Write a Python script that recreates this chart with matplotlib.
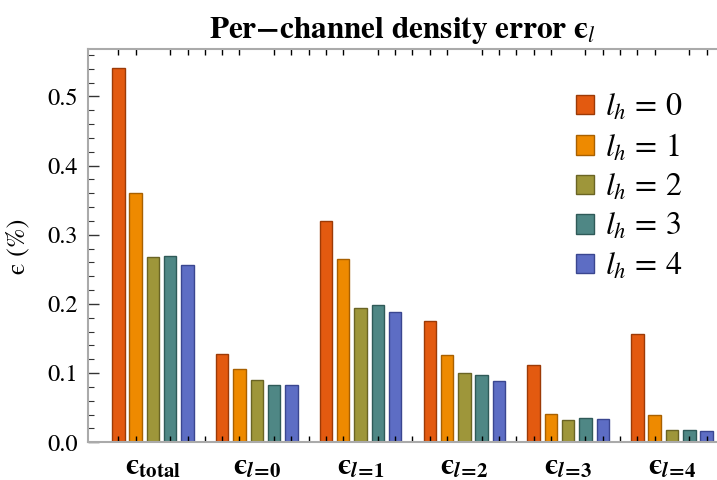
import numpy as np
import matplotlib.pyplot as plt
from matplotlib.patches import Patch
from matplotlib.ticker import MultipleLocator, FixedLocator

plt.rcParams['mathtext.fontset'] = 'stix'
plt.rcParams['font.family'] = ['STIXGeneral', 'DejaVu Serif']

# данные: ошибка по каналам для каждого l_h
groups = ['$\\boldsymbol{\u03f5}_{\\mathbf{total}}$',
          '$\\boldsymbol{\u03f5}_{\\boldsymbol{l}\\!\\mathbf{=}\\!\\mathbf{0}}$',
          '$\\boldsymbol{\u03f5}_{\\boldsymbol{l}\\!\\mathbf{=}\\!\\mathbf{1}}$',
          '$\\boldsymbol{\u03f5}_{\\boldsymbol{l}\\!\\mathbf{=}\\!\\mathbf{2}}$',
          '$\\boldsymbol{\u03f5}_{\\boldsymbol{l}\\!\\mathbf{=}\\!\\mathbf{3}}$',
          '$\\boldsymbol{\u03f5}_{\\boldsymbol{l}\\!\\mathbf{=}\\!\\mathbf{4}}$']
series = [r'$l_h\,=\,0$', r'$l_h\,=\,1$', r'$l_h\,=\,2$', r'$l_h\,=\,3$', r'$l_h\,=\,4$']
lh0 = [0.541, 0.128, 0.320, 0.176, 0.112, 0.156]
lh1 = [0.361, 0.106, 0.265, 0.126, 0.041, 0.040]
lh2 = [0.268, 0.090, 0.194, 0.100, 0.032, 0.018]
lh3 = [0.269, 0.083, 0.198, 0.097, 0.035, 0.018]
lh4 = [0.257, 0.083, 0.188, 0.089, 0.033, 0.016]
values = [lh0, lh1, lh2, lh3, lh4]

colors = ['#E35A10', '#EE8A00', '#9E963A', '#4F8785', '#5D6DC4']
edges = ['#9C3A06', '#A86000', '#6A6424', '#2F5A58', '#3A4690']

fig = plt.figure(figsize=(7.17, 4.8), dpi=100)
ax = fig.add_axes([0.1223, 0.0785, 0.8777, 0.8185])

slot = 6  # 5 баров + пустое место
for k, (vals, c, e, lab) in enumerate(zip(values, colors, edges, series)):
    x = np.arange(len(groups)) * slot + k
    ax.bar(x, vals, width=0.72, color=c, edgecolor=e, linewidth=1.0, label=lab)

ax.set_xlim(-1.77, 34.6)
ax.set_ylim(0, 0.568)

# оси и засечки
for s in ['left', 'top', 'bottom']:
    ax.spines[s].set_color('#AAAAAA')
    ax.spines[s].set_linewidth(1.5)
ax.spines['right'].set_visible(False)

ax.yaxis.set_major_locator(MultipleLocator(0.1))
ax.yaxis.set_minor_locator(MultipleLocator(0.02))
ax.yaxis.set_major_formatter(plt.FuncFormatter(lambda v, p: f'{v:.1f}'))
ax.tick_params(axis='y', which='major', direction='in', length=8, width=1,
               color='#333333', labelsize=17.5, pad=7, right=False)
ax.tick_params(axis='y', which='minor', direction='in', length=4, width=0.8,
               color='#333333', right=False)

ax.xaxis.set_major_locator(FixedLocator(np.arange(len(groups)) * slot + 2))
ax.set_xticklabels(groups)
ax.xaxis.set_minor_locator(FixedLocator(np.arange(0, 35)))
ax.tick_params(axis='x', which='major', length=0, labelsize=21.5, pad=8)
ax.tick_params(axis='x', which='minor', direction='in', length=4, width=1,
               color='black', top=True, bottom=True)

ax.set_ylabel('\u03f5 (%)', fontsize=19, labelpad=12)
ax.set_title('Per\u2212channel density error $\\boldsymbol{\u03f5}_{l}$',
             fontsize=22.5, fontweight='bold', pad=8)

handles = [Patch(facecolor=c, edgecolor=e, linewidth=1.0) for c, e in zip(colors, edges)]
ax.legend(handles, series, loc='upper left', bbox_to_anchor=(0.776, 0.89),
          frameon=False, fontsize=23, handlelength=0.55, handleheight=0.55,
          handletextpad=0.35, labelspacing=0.29, borderpad=0, borderaxespad=0)

fig.savefig('out.png', dpi=100)
